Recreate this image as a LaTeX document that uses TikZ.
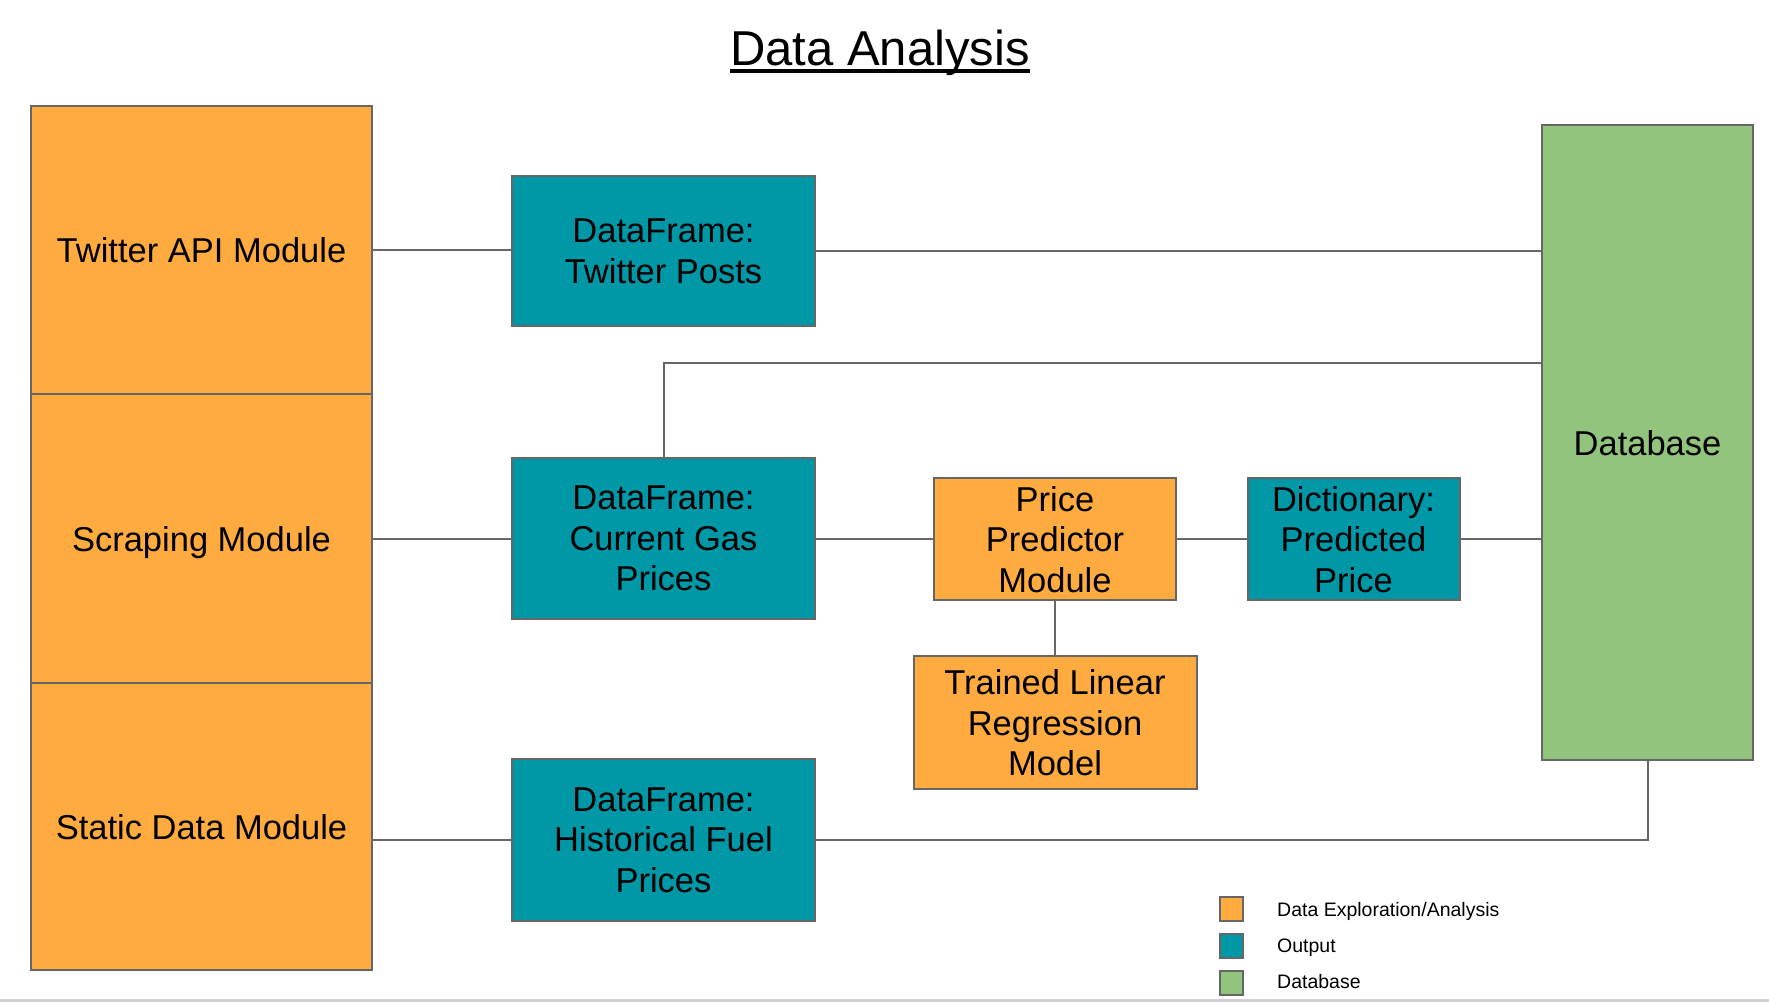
\documentclass[tikz,border=0pt]{standalone}
\usepackage{fontspec}
\setmainfont{Liberation Sans}
\definecolor{orng}{HTML}{FFAB40}
\definecolor{teal2}{HTML}{0097A7}
\definecolor{grn}{HTML}{93C47D}
\definecolor{bord}{HTML}{666666}
\begin{document}
\begin{tikzpicture}[x=1pt,y=-1pt,
  box/.style={rectangle,draw=bord,line width=2pt,inner sep=0pt,align=center,text depth=0pt,
    font=\fontsize{34.5}{40.5}\selectfont},
  obox/.style={box,fill=orng},
  tbox/.style={box,fill=teal2},
  gbox/.style={box,fill=grn},
  conn/.style={draw=bord,line width=2pt},
  legsq/.style={rectangle,draw=bord,line width=2pt,inner sep=0pt,minimum width=23pt,minimum height=24pt},
  legtxt/.style={anchor=base west,inner sep=0pt,font=\fontsize{19.5}{22}\selectfont}]
\useasboundingbox (0,0) rectangle (1769,1002);
\fill[white] (0,0) rectangle (1769,1002);

% title
\node[inner sep=0pt,anchor=base,font=\fontsize{49}{56}\selectfont] (title) at (880,65) {Data Analysis};
\draw[line width=3.5pt] ([yshift=-6pt]title.base west) -- ([yshift=-6pt]title.base east);

% left column
\node[obox,minimum width=341pt,minimum height=288pt] (twapi) at (201.5,250) {Twitter API Module};
\node[obox,minimum width=341pt,minimum height=289pt] (scrape) at (201.5,538.5) {Scraping Module};
\node[obox,minimum width=341pt,minimum height=287pt] (static) at (201.5,826.5) {Static Data Module};

% dataframes
\node[tbox,minimum width=303pt,minimum height=150pt] (dftw) at (663.5,251) {DataFrame:\\Twitter Posts};
\node[tbox,minimum width=303pt,minimum height=161pt] (dfgas) at (663.5,538.5) {DataFrame:\\Current Gas\\Prices};
\node[tbox,minimum width=303pt,minimum height=162pt] (dfhist) at (663.5,840) {DataFrame:\\Historical Fuel\\Prices};

% predictor
\node[obox,minimum width=242pt,minimum height=122pt] (pred) at (1055,539) {Price\\Predictor\\Module};
\node[tbox,minimum width=212pt,minimum height=122pt] (dict) at (1353.5,539) {Dictionary:\\Predicted\\Price};
\node[obox,minimum width=283pt,minimum height=133pt] (trained) at (1055,722.5) {Trained Linear\\Regression\\Model};

% database
\node[gbox,minimum width=211pt,minimum height=635pt] (db) at (1647.5,442.5) {Database};
\coordinate (gasdb) at (1542,363);

% connectors
\draw[conn] (twapi.east) -- (twapi.east -| dftw.west);
\draw[conn] (dftw.east) -- (dftw.east -| db.west);
\draw[conn] (dfgas.north) |- (gasdb);
\draw[conn] (scrape.east) -- (scrape.east -| dfgas.west);
\draw[conn] (dfgas.east) -- (dfgas.east -| pred.west);
\draw[conn] (pred.east) -- (pred.east -| dict.west);
\draw[conn] (dict.east) -- (dict.east -| db.west);
\draw[conn] (pred.south) -- (trained.north);
\draw[conn] (static.east |- dfhist.west) -- (dfhist.west);
\draw[conn] (dfhist.east) -| (db.south);

% legend
\node[legsq,fill=orng] (l1) at (1231,909) {};
\node[legsq,fill=teal2] (l2) at (1231,946) {};
\node[legsq,fill=grn] (l3) at (1231,983) {};
\node[legtxt] (t1) at (1277,916.7) {Data Exploration/Analysis};
\node[legtxt] (t2) at (1277,952.7) {Output};
\node[legtxt] (t3) at (1277,988) {Database};

% bottom border line
\draw[draw=black!18,line width=2.5pt] (0,1000.5) -- (1769,1000.5);
\end{tikzpicture}
\end{document}
